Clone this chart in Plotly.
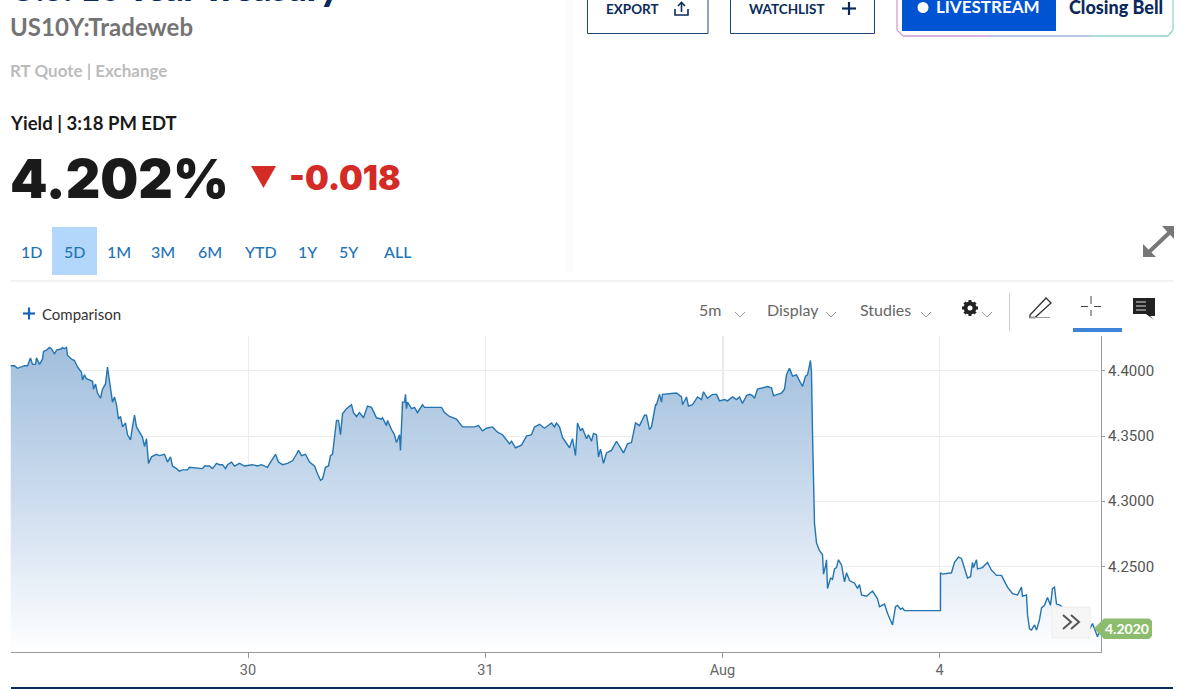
import plotly.graph_objects as go

# Chart clock: 1 unit is about 6 minutes of charted session time
session_time = [0,4,7,11,14,17,20,22,25,26,29,32,33,36,39,41,44,46,51,52,54,56,57,61,64,67,71,72,74,76,79,82,83,85,87,90,92,95,97,99,101,102,104,106,108,110,112,115,117,120,122,124,126,129,132,134,136,138,141,146,149,154,157,160,162,166,169,172,177,179,192,194,199,202,206,209,212,215,217,221,224,229,234,242,247,251,257,260,265,268,272,277,282,286,288,291,295,299,304,307,310,312,315,318,320,322,323,326,328,330,332,336,341,343,346,349,353,357,361,366,371,372,376,377,381,384,386,389,
 390,391,392,394,395,396,397,401,404,407,412,414,431,434,439,446,449,452,461,464,468,472,476,482,487,492,499,501,505,511,516,521,524,529,534,541,544,546,549,552,559,562,565,567,570,572,576,578,581,583,586,588,590,593,596,601,606,609,613,617,621,625,629,634,636,639,641,645,646,649,651,652,666,671,672,676,678,682,687,691,693,697,702,706,709,714,717,722,726,729,732,736,739,742,744,747,752,757,761,763,767,771,774,776,779,782,786,789,792,795,797,800,801,802,803,804,
 806,809,812,813,815,816,817,820,822,824,826,828,831,834,836,839,844,847,849,851,856,862,867,869,874,877,882,885,887,890,892,894,930,930,932,941,944,948,951,954,957,960,962,963,966,967,972,977,981,986,991,993,997,1002,1007,1011,1012,1016,1017,1019,1021,1024,1026,1029,1031,1034,1037,1040,1042,1044,1046,1050,1056,1066,1078,1082,1087,1090]

yield_pct = [4.404,4.404,4.402,4.403,4.404,4.404,4.410,4.405,4.405,4.410,4.405,4.409,4.415,4.416,4.418,4.417,4.413,4.416,4.417,4.418,4.417,4.418,4.412,4.409,4.408,4.403,4.399,4.393,4.397,4.394,4.393,4.392,4.386,4.390,4.383,4.379,4.386,4.390,4.403,4.392,4.383,4.376,4.380,4.374,4.363,4.365,4.357,4.360,4.351,4.347,4.357,4.366,4.357,4.353,4.349,4.342,4.348,4.329,4.334,4.336,4.335,4.336,4.330,4.334,4.327,4.325,4.323,4.324,4.324,4.326,4.325,4.327,4.327,4.325,4.329,4.328,4.328,4.325,4.328,4.330,4.327,4.329,4.327,4.328,4.327,4.328,4.326,4.330,4.336,4.330,4.328,4.329,4.331,4.336,4.339,4.335,4.336,4.330,4.327,4.321,4.316,4.317,4.326,4.327,4.335,4.336,4.344,4.362,4.362,4.351,4.367,4.371,4.374,4.368,4.365,4.368,4.364,4.373,4.372,4.364,4.363,4.364,4.358,4.362,4.355,4.351,4.345,4.351,
 4.339,4.364,4.376,4.376,4.382,4.371,4.376,4.371,4.372,4.368,4.374,4.372,4.372,4.368,4.365,4.363,4.360,4.357,4.357,4.357,4.358,4.354,4.356,4.357,4.353,4.351,4.344,4.346,4.341,4.343,4.350,4.351,4.357,4.359,4.356,4.360,4.357,4.360,4.357,4.349,4.341,4.348,4.335,4.360,4.354,4.356,4.348,4.351,4.346,4.352,4.351,4.334,4.340,4.329,4.337,4.339,4.346,4.342,4.337,4.344,4.345,4.360,4.358,4.366,4.366,4.355,4.357,4.374,4.374,4.382,4.376,4.382,4.383,4.380,4.374,4.380,4.373,4.374,4.380,4.378,4.384,4.379,4.382,4.382,4.377,4.378,4.377,4.380,4.378,4.380,4.375,4.381,4.382,4.381,4.379,4.386,4.387,4.388,4.387,4.381,4.382,4.383,4.386,4.397,4.402,4.396,4.397,4.392,4.388,4.396,4.397,4.408,4.399,4.353,4.302,4.283,
 4.268,4.262,4.259,4.244,4.250,4.255,4.233,4.241,4.240,4.248,4.249,4.255,4.251,4.238,4.245,4.239,4.237,4.233,4.236,4.228,4.227,4.231,4.225,4.219,4.221,4.214,4.205,4.219,4.220,4.217,4.218,4.216,4.216,4.245,4.244,4.245,4.253,4.257,4.256,4.248,4.241,4.242,4.253,4.249,4.255,4.248,4.249,4.253,4.247,4.243,4.243,4.240,4.234,4.229,4.228,4.234,4.227,4.228,4.213,4.202,4.201,4.205,4.201,4.209,4.218,4.220,4.226,4.220,4.233,4.234,4.221,4.220,4.214,4.206,4.200,4.206,4.196,4.202]

day_ticks = [237.5, 475, 712, 929]
day_labels = ["30", "31", "Aug", "4"]
yield_ticks = [4.25, 4.30, 4.35, 4.40]
yield_labels = ["4.2500", "4.3000", "4.3500", "4.4000"]
range_buttons = ["1D", "5D", "1M", "3M", "6M", "YTD", "1Y", "5Y", "ALL"]
range_button_x = [31, 74.5, 118.5, 163, 209.5, 260.5, 307.5, 349, 397]

W, H = 1200, 689
PX = lambda x: x / W
PY = lambda y: 1 - y / H
FONT = "Lato"
BLUE = "#2474b0"
NAVY = "#0b2a5b"

fig = go.Figure()
fig.add_trace(go.Scatter(
    x=session_time, y=yield_pct, mode="lines", line=dict(color=BLUE, width=1.4),
    fill="tozeroy",
    fillgradient=dict(type="vertical", start=4.184, stop=4.42,
                      colorscale=[[0, "rgba(255,255,255,1)"], [0.5, "rgb(204,220,238)"], [1, "rgb(160,190,220)"]]),
    hoverinfo="skip", showlegend=False))

shapes, annos = [], []

def rect(x0, y0, x1, y1, fill="rgba(0,0,0,0)", line=None, lw=1, layer="above"):
    shapes.append(dict(type="rect", xref="paper", yref="paper", x0=PX(x0), x1=PX(x1), y0=PY(y0), y1=PY(y1),
                       fillcolor=fill, line=dict(color=line or "rgba(0,0,0,0)", width=lw if line else 0), layer=layer))

def seg(x0, y0, x1, y1, color, lw=1, layer="above"):
    shapes.append(dict(type="line", xref="paper", yref="paper", x0=PX(x0), x1=PX(x1), y0=PY(y0), y1=PY(y1),
                       line=dict(color=color, width=lw), layer=layer))

def poly(points, fill=None, line=None, lw=1, close=True):
    d = "M " + " L ".join(f"{PX(x):.5f},{PY(y):.5f}" for x, y in points) + (" Z" if close else "")
    shapes.append(dict(type="path", xref="paper", yref="paper", path=d, fillcolor=fill or "rgba(0,0,0,0)",
                       line=dict(color=line or "rgba(0,0,0,0)", width=lw if line else 0), layer="above"))

def circle(cx, cy, r, fill):
    shapes.append(dict(type="circle", xref="paper", yref="paper", x0=PX(cx - r), x1=PX(cx + r), y0=PY(cy + r), y1=PY(cy - r),
                       fillcolor=fill, line=dict(width=0), layer="above"))

def text(x, y, s, size, color, anchor="left", weight=400, family=FONT):
    annos.append(dict(xref="paper", yref="paper", x=PX(x), y=PY(y), text=s,
                      showarrow=False, xanchor=anchor, yanchor="middle",
                      font=dict(size=size, color=color, family=family, weight=weight), borderpad=0))

# header block
text(9, -13, "U.S. 10 Year Treasury", 35, NAVY, weight=800)
text(9, 27, "US10Y:Tradeweb", 24, "#747474", weight=700)
text(9, 70, "RT Quote | Exchange", 17, "#bcbcbc", weight=700)
text(9, 122.5, "Yield | 3:18 PM EDT", 18.5, "#1a1a1a", weight=700)
text(9, 178, "4.202%", 53.5, "#1a1a1a", weight=900, family="Inter")
poly([(251, 166), (276, 166), (263.5, 188)], fill="#d42b27")
text(288, 177.5, "-0.018", 33.5, "#d42b27", weight=900, family="Inter")

# range selector
rect(52, 227, 97, 275, fill="#b3d7fb")
for lab, bx in zip(range_buttons, range_button_x):
    text(bx, 251, lab, 16, "#1f74b4", anchor="center", weight=500)
seg(11, 281, 1173, 281, "#e4e4e4")

# top-right buttons
rect(587.5, -4, 708, 33.5, line="#1f4474", lw=1)
text(605, 9, "EXPORT", 13.5, NAVY, weight=700)
poly([(675, 9), (675, 15), (688, 15), (688, 9)], line=NAVY, lw=1.6, close=False)
seg(681.5, 3, 681.5, 12, NAVY, 1.6)
poly([(678, 6), (681.5, 2.5), (685, 6)], line=NAVY, lw=1.6, close=False)
rect(730.5, -4, 874.5, 33.5, line="#1f4474", lw=1)
text(748, 9, "WATCHLIST", 13.5, NAVY, weight=700)
seg(849, 2, 849, 15, NAVY, 2.2)
seg(842, 8.5, 856, 8.5, NAVY, 2.2)
seg(897, 0, 897, 30, "#d79bd0", 1.3)
seg(903, 36, 990, 36, "#cf9ad6", 1.5)
seg(990, 36, 1090, 36, "#a4b4dd", 1.5)
seg(1090, 36, 1168, 36, "#8fd0c8", 1.5)
seg(1173, 0, 1173, 30, "#8fd8b8", 1.3)
seg(897, 30, 903, 36, "#d79bd0", 1.3)
seg(1168, 36, 1173, 30, "#8fd8b8", 1.3)
rect(902, -4, 1056, 31, fill="#0053d1")
circle(923, 7.5, 5.5, "#ffffff")
text(935, 7, "LIVESTREAM", 17, "#ffffff", weight=700)
text(1068, 7, "Closing Bell", 18, NAVY, weight=900)

# expand icon
seg(1149, 252, 1169, 233, "#777777", 4)
poly([(1162, 226), (1174, 226), (1174, 239)], fill="#777777")
poly([(1143, 244), (1143, 257), (1156, 257)], fill="#777777")

# faint edge of right column
rect(566, 0, 574, 272, fill="rgba(0,0,0,0.012)")

# toolbar
seg(23, 313.5, 35, 313.5, "#1b63b8", 2.2)
seg(29, 307.5, 29, 319.5, "#1b63b8", 2.2)
text(41, 313.5, "Comparison", 15, "#333333")
for lab, tx, cx in [("5m", 698, 740), ("Display", 766, 831), ("Studies", 859, 926)]:
    text(tx, 309.5, lab, 16, "#666666")
    poly([(cx - 5, 312), (cx, 317), (cx + 5, 312)], line="#999999", lw=1, close=False)
# gear
circle(970, 308, 6.5, "#222222")
seg(970, 300, 970, 316, "#222222", 3)
seg(962, 308, 978, 308, "#222222", 3)
seg(964.5, 302.5, 975.5, 313.5, "#222222", 3)
seg(964.5, 313.5, 975.5, 302.5, "#222222", 3)
circle(970, 308, 2.5, "#ffffff")
poly([(982, 312), (987, 317), (992, 312)], line="#999999", lw=1, close=False)
seg(1009.5, 293, 1009.5, 331, "#cccccc", 1)
poly([(1030, 315), (1046, 298), (1051, 303), (1035, 317.5), (1030, 317.5)], line="#333333", lw=1.3)
seg(1030, 317.5, 1050, 317.5, "#999999", 1)
seg(1091, 296, 1091, 304, "#444444", 1)
seg(1091, 310, 1091, 316, "#444444", 1)
seg(1081, 306.5, 1088, 306.5, "#444444", 1)
seg(1094, 306.5, 1101, 306.5, "#444444", 1)
rect(1073, 328, 1122, 332, fill="#3f84d8")
poly([(1133, 298), (1155, 298), (1155, 316), (1150, 316), (1154, 320), (1146, 314), (1133, 314)], fill="#222222")
for yy in (302, 306, 310):
    seg(1136, yy, 1146, yy, "#dddddd", 1)

# price axis frame extras
seg(723, 336, 723, 652, "#d2d2d2", 1, layer="below")

# last price tag and scroll button
poly([(1094, 628.5), (1104, 618.5), (1149, 618.5), (1152, 621), (1152, 636), (1149, 639), (1104, 639)], fill="#8cbc6e")
text(1127, 628.5, "4.2020", 14, "#ffffff", anchor="center", weight=700)
rect(1052, 607, 1090, 638, fill="#f6f6f6", line="#eeeeee", lw=1)
poly([(1063, 615), (1071, 622), (1063, 629)], line="#555555", lw=2, close=False)
poly([(1071, 615), (1079, 622), (1071, 629)], line="#555555", lw=2, close=False)

# bottom rule
seg(11, 688, 1173, 688, NAVY, 2)

fig.update_layout(
    width=W, height=H, autosize=False, margin=dict(l=0, r=0, t=0, b=0),
    paper_bgcolor="#ffffff", plot_bgcolor="#ffffff", showlegend=False,
    font=dict(family="Roboto", color="#666666"),
    shapes=shapes, annotations=annos,
    xaxis=dict(domain=[PX(10.5), PX(1101)], range=[0, 1090.5], tickmode="array", tickvals=day_ticks, ticktext=day_labels,
               showgrid=True, gridcolor="#ececec", gridwidth=1, zeroline=False, showline=True, linecolor="#999999", linewidth=1,
               ticks="outside", ticklen=5, tickcolor="#999999", tickfont=dict(size=14.5, color="#666666", family="Roboto")),
    yaxis=dict(domain=[PY(652), PY(336)], range=[4.1842, 4.4268], side="right", anchor="x", tickmode="array",
               tickvals=yield_ticks, ticktext=yield_labels, showgrid=True, gridcolor="#ececec", gridwidth=1,
               zeroline=False, showline=True, linecolor="#999999", linewidth=1, ticks="outside", ticklen=3,
               tickcolor="#999999", tickfont=dict(size=15, color="#555555", family="Roboto")),
)

fig.write_html("out.html", config=dict(displayModeBar=False),
               post_script="document.body.style.margin='0';document.documentElement.style.overflow='hidden';")
